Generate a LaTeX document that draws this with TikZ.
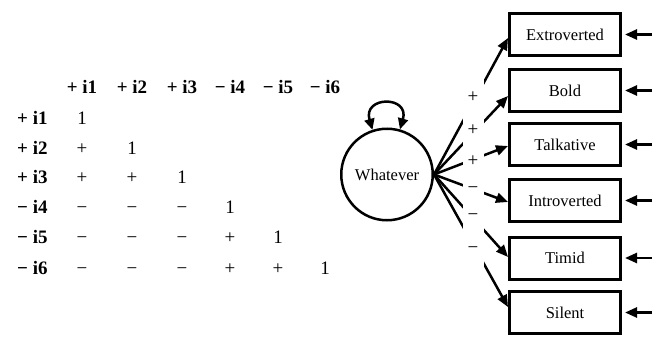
\documentclass[tikz,border=0pt]{standalone}
\usepackage{fontspec}
\setmainfont{Liberation Serif}
\usetikzlibrary{arrows.meta}
\begin{document}
\begin{tikzpicture}[x=1pt,y=-1pt,
  mat/.style={font=\fontsize{19}{22}\selectfont, anchor=base, inner sep=0pt},
  hdr/.style={font=\fontsize{19}{22}\selectfont\bfseries, anchor=base, inner sep=0pt},
  sgn/.style={font=\fontsize{19}{22}\selectfont, inner sep=0pt},
  obs/.style={draw, line width=3pt, minimum width=111pt, minimum height=42pt, inner sep=0pt, font=\fontsize{16.5}{20}\selectfont},
  lat/.style={circle, draw, line width=2.5pt, minimum size=91.5pt, inner sep=0pt, font=\fontsize{16.5}{20}\selectfont},
  arr/.style={line width=2.5pt, -{Triangle[length=12pt,width=10pt]}},
  darr/.style={line width=2.5pt, {Triangle[length=11pt,width=10pt]}-{Triangle[length=11pt,width=10pt]}}
]
\useasboundingbox (0,0) rectangle (652,337);

% column headers
\foreach \t [count=\i] in {+ i1,+ i2,+ i3,− i4,− i5,− i6}{
  \pgfmathsetmacro{\cx}{{82,132,182,230,278,325}[\i-1]}
  \node[hdr] (h\i) at (\cx,93.5) {\t};
}
% row headers
\foreach \t [count=\i] in {+ i1,+ i2,+ i3,− i4,− i5,− i6}{
  \pgfmathsetmacro{\ry}{{124.5,154.5,183.5,213.5,243.5,274.5}[\i-1]}
  \node[hdr, anchor=base west] (r\i) at (17,\ry) {\t};
}
% entries
\foreach \r/\c/\t in {1/1/1,
  2/1/+,2/2/1,
  3/1/+,3/2/+,3/3/1,
  4/1/−,4/2/−,4/3/−,4/4/1,
  5/1/−,5/2/−,5/3/−,5/4/+,5/5/1,
  6/1/−,6/2/−,6/3/−,6/4/+,6/5/+,6/6/1}{
  \pgfmathsetmacro{\cx}{{82,132,182,230,278,325}[\c-1]}
  \pgfmathsetmacro{\ry}{{124.5,154.5,183.5,213.5,243.5,274.5}[\r-1]}
  \node[mat] (e\r\c) at (\cx,\ry) {\t};
}

% latent variable
\node[lat] (w) at (387,174.5) {Whatever};
\draw[darr] (w.108) .. controls +(-10,-34) and +(10,-34) .. (w.74);

% indicators
\foreach \t [count=\i] in {Extroverted,Bold,Talkative,Introverted,Timid,Silent}{
  \pgfmathsetmacro{\by}{{34.5,90.5,144.5,200.5,258,312.5}[\i-1]}
  \node[obs] (b\i) at (565,\by) {\t};
  \coordinate (s\i) at (652,\by);
  \draw[arr] (s\i) -- ([xshift=3pt]b\i.east);
}

% loadings
\foreach \i/\d in {1/-3.5,2/-5.5,3/-1.5,4/-1.5,5/1,6/5.5}{
  \draw[arr] (w.east) -- ([yshift=\d pt]b\i.west);
}
\fill[white] (463,60) rectangle (484,290);
\foreach \t/\y [count=\i] in {+/97,+/130,+/161,−/190,−/217,−/250}{
  \node[sgn] (l\i) at (473,\y) {\t};
}
\end{tikzpicture}
\end{document}
